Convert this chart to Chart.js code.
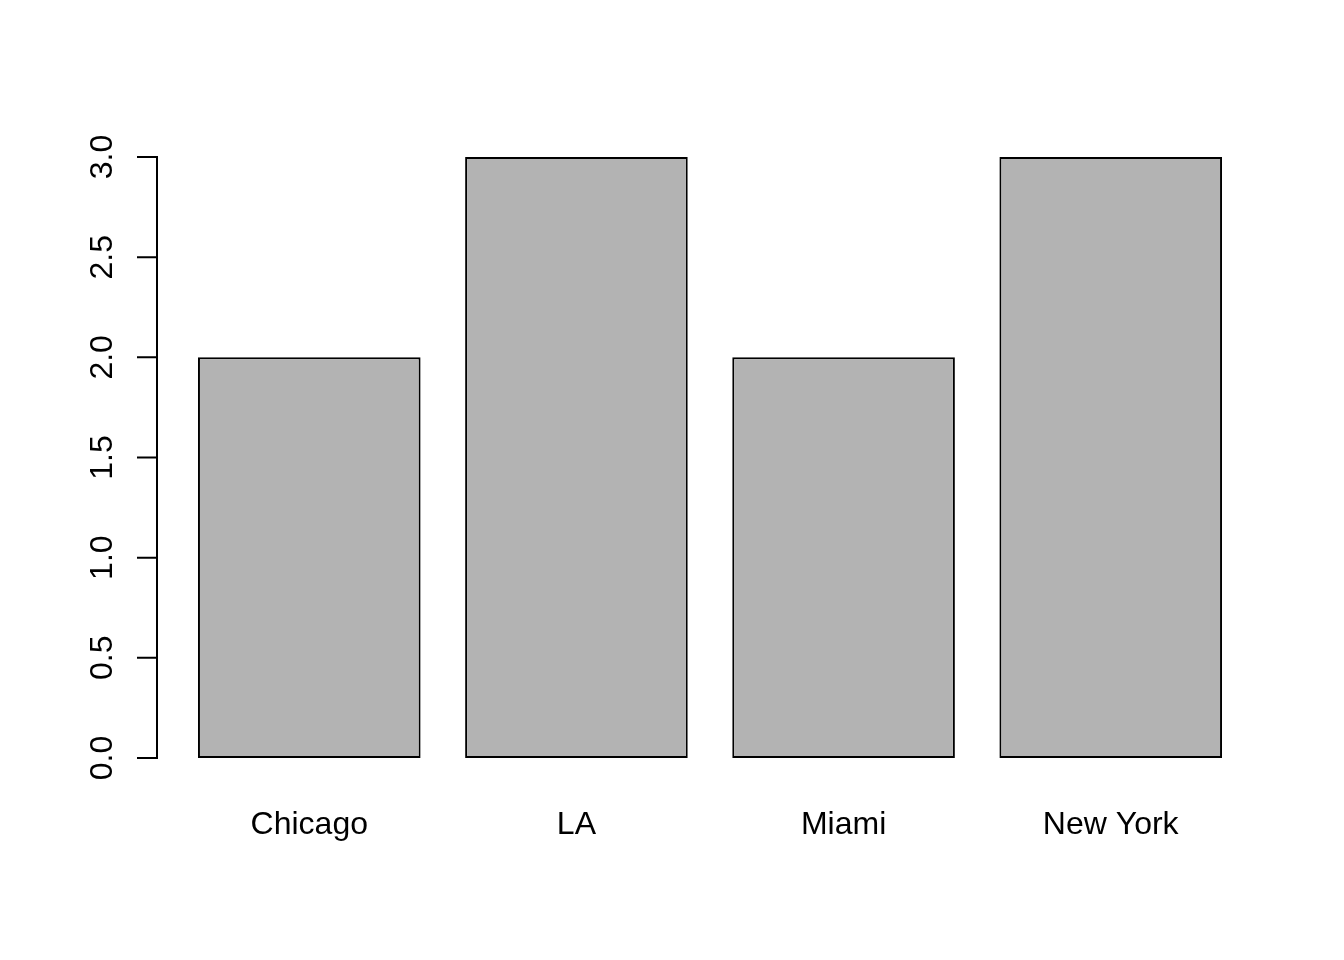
<!DOCTYPE html>
<html>
<head>
<meta charset="utf-8">
<script src="https://cdn.jsdelivr.net/npm/chart.js@4/dist/chart.umd.min.js"></script>
<style>
html,body{margin:0;padding:0;background:#fff;}
canvas{display:block;}
</style>
</head>
<body>
<canvas id="c" width="1344" height="960"></canvas>
<script>
const categories = ["Chicago", "LA", "Miami", "New York"];
const values = [2, 3, 2, 3];
const barCenters = [0.7, 1.9, 3.1, 4.3];
const yTicks = [0, 0.5, 1, 1.5, 2, 2.5, 3];
const yTickLabels = ["0.0", "0.5", "1.0", "1.5", "2.0", "2.5", "3.0"];

const FONT = '32px "Liberation Sans", Arial, Helvetica, sans-serif';

const axisPlugin = {
  id: 'rAxis',
  afterDraw(chart) {
    const ctx = chart.ctx;
    const xs = chart.scales.x, ys = chart.scales.y;
    const ax = chart.chartArea.left;
    ctx.save();
    ctx.strokeStyle = '#000';
    ctx.lineWidth = 2;
    ctx.lineCap = 'butt';
    const y0 = ys.getPixelForValue(yTicks[0]);
    const y1 = ys.getPixelForValue(yTicks[yTicks.length - 1]);
    ctx.beginPath();
    ctx.moveTo(ax, y0 + 1);
    ctx.lineTo(ax, y1 - 1);
    yTicks.forEach(v => {
      const py = ys.getPixelForValue(v);
      ctx.moveTo(ax - 20, py);
      ctx.lineTo(ax, py);
    });
    ctx.stroke();
    ctx.fillStyle = '#000';
    ctx.font = FONT;
    ctx.textAlign = 'center';
    ctx.textBaseline = 'alphabetic';
    yTicks.forEach((v, i) => {
      const py = ys.getPixelForValue(v);
      ctx.save();
      ctx.translate(112, py);
      ctx.rotate(-Math.PI / 2);
      ctx.fillText(yTickLabels[i], 0, 0);
      ctx.restore();
    });
    categories.forEach((name, i) => {
      const px = xs.getPixelForValue(barCenters[i]);
      ctx.fillText(name, px, 834);
    });
    ctx.restore();
  }
};

new Chart(document.getElementById('c'), {
  type: 'bar',
  data: {
    datasets: [{
      data: categories.map((c, i) => ({ x: barCenters[i], y: values[i] })),
      backgroundColor: '#b3b3b3',
      borderColor: '#000',
      borderWidth: 2,
      borderSkipped: false,
      barPercentage: 1 / 1.2,
      categoryPercentage: 1
    }]
  },
  options: {
    responsive: false,
    animation: false,
    devicePixelRatio: 1,
    layout: { padding: { left: 157, right: 81, top: 133, bottom: 178 } },
    plugins: { legend: { display: false }, tooltip: { enabled: false } },
    scales: {
      x: {
        type: 'linear', min: 0.016, max: 4.984, display: false, offset: false,
        grid: { offset: false },
        afterBuildTicks: axis => { axis.ticks = barCenters.map(v => ({ value: v })); }
      },
      y: { type: 'linear', min: -0.12, max: 3.12, display: false }
    }
  },
  plugins: [axisPlugin]
});
</script>
</body>
</html>
